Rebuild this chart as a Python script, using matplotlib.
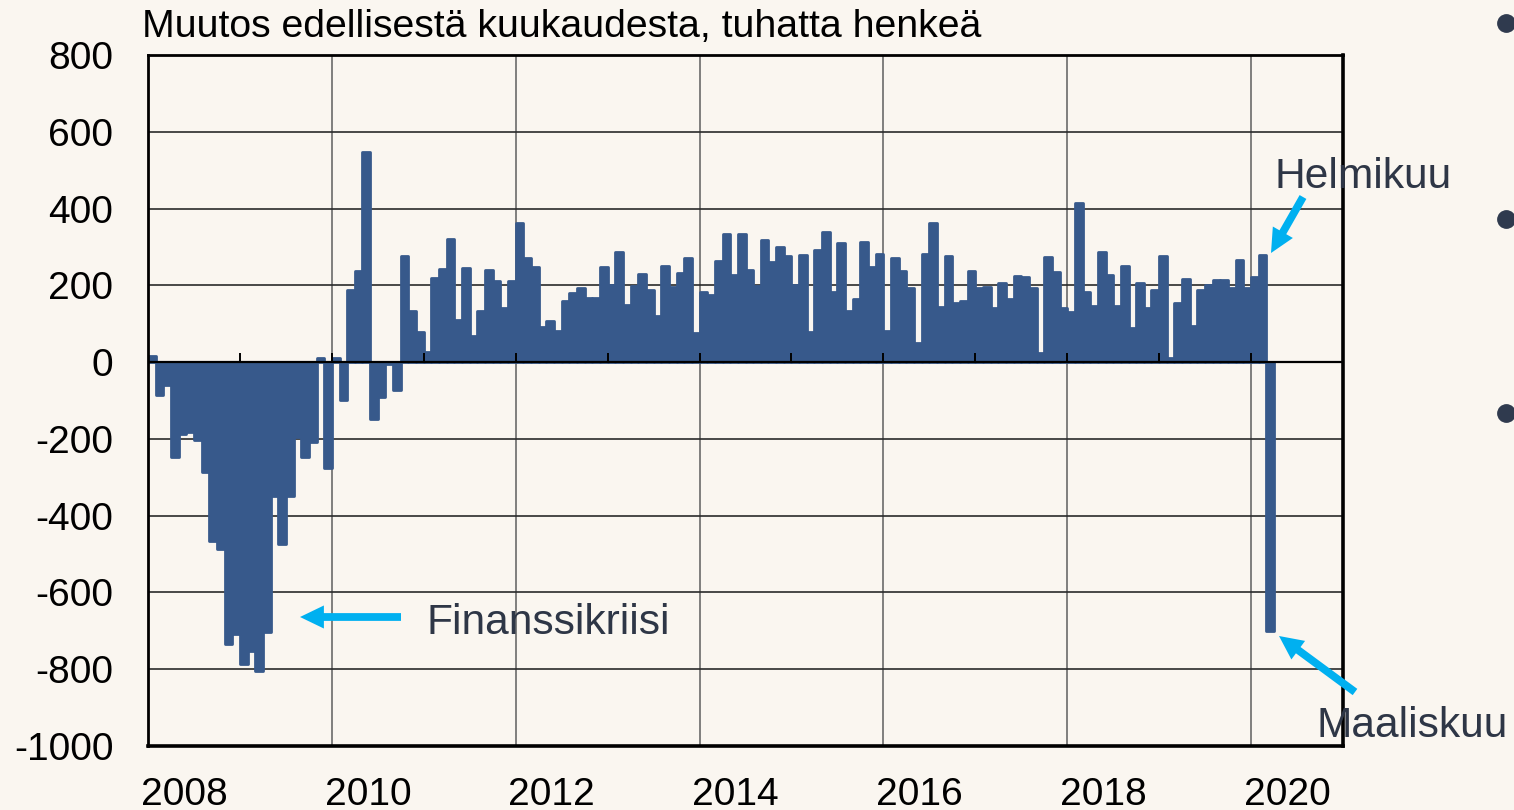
import numpy as np
import matplotlib
matplotlib.use("Agg")
import matplotlib.pyplot as plt
from matplotlib.lines import Line2D

# ---------------- data ----------------
title = "Muutos edellisestä kuukaudesta, tuhatta henkeä"
year_labels = ["2008", "2010", "2012", "2014", "2016", "2018", "2020"]
y_ticks = [800, 600, 400, 200, 0, -200, -400, -600, -800, -1000]

change_2008 = [17, -86, -60, -246, -187, -181, -203, -285, -467, -487, -733, -707]
change_2009 = [-787, -753, -805, -703, -350, -473, -348, -194, -246, -207, 12, -276]
change_2010 = [12, -99, 189, 238, 548, -147, -92, -6, -73, 276, 133, 79]
change_2011 = [27, 220, 242, 320, 109, 244, 69, 134, 241, 212, 140, 210]
change_2012 = [363, 270, 248, 92, 108, 82, 160, 179, 193, 168, 166, 247]
change_2013 = [200, 286, 148, 199, 229, 189, 121, 250, 196, 233, 272, 77]
change_2014 = [183, 174, 263, 335, 226, 335, 240, 198, 318, 261, 299, 276]
change_2015 = [200, 279, 79, 293, 339, 183, 311, 134, 164, 313, 247, 281]
change_2016 = [82, 272, 238, 194, 51, 281, 363, 144, 276, 153, 160, 238]
change_2017 = [194, 196, 140, 205, 164, 224, 222, 192, 25, 274, 234, 140]
change_2018 = [130, 414, 183, 146, 286, 226, 146, 250, 90, 207, 142, 189]
change_2019 = [276, 10, 154, 216, 94, 189, 201, 214, 214, 194, 267, 194]
change_2020 = [222, 279, -701]

change = (change_2008 + change_2009 + change_2010 + change_2011 + change_2012
          + change_2013 + change_2014 + change_2015 + change_2016 + change_2017
          + change_2018 + change_2019 + change_2020)

annot_feb = "Helmikuu"
annot_mar = "Maaliskuu"
annot_crisis = "Finanssikriisi"

# ---------------- style ----------------
BG = "#FAF6F0"
BAR = "#37598B"
ARROW = "#00B0F0"
NOTE = "#2E3646"

plt.rcParams["font.family"] = ["Liberation Sans", "DejaVu Sans"]

W, H = 1514, 810
fig = plt.figure(figsize=(W / 100, H / 100), dpi=100, facecolor=BG)
ax = fig.add_axes([148 / W, 1 - 746 / H, (1343 - 148) / W, (746 - 55) / H])
ax.set_facecolor(BG)

x = np.arange(len(change)) + 0.5
ax.bar(x, change, width=1.0, color=BAR, edgecolor=BAR, linewidth=2.0,
       joinstyle="round", zorder=2)

ax.set_xlim(0, 156)
ax.set_ylim(-1000, 800)

# gridlines
major_x = np.arange(0, 157, 24)
ax.set_xticks(major_x)
ax.set_xticklabels([""] * len(major_x))
ax.set_xticks(major_x[:len(year_labels)] + 4.7, minor=True)
ax.set_xticklabels(year_labels, minor=True)
ax.set_yticks(y_ticks)
ax.set_yticklabels([str(v) for v in y_ticks])
ax.grid(axis="x", which="major", color="#6a6a6a", lw=1.2, zorder=1)
ax.grid(axis="y", which="major", color="#2a2a2a", lw=1.2, zorder=1)
ax.tick_params(which="both", length=0, labelsize=28, colors="black")
ax.tick_params(axis="y", pad=25)
ax.tick_params(axis="x", which="minor", pad=22)

# zero line and yearly ticks on it
ax.axhline(0, color="black", lw=1.6, zorder=3)
ax.vlines(np.arange(12, 156, 12), 0, 24, color="black", lw=1.4, zorder=3)

for side, lw in [("left", 2.0), ("bottom", 2.6), ("top", 2.0), ("right", 2.6)]:
    ax.spines[side].set_linewidth(lw)
    ax.spines[side].set_color("black")
    ax.spines[side].set_zorder(4)

# title
fig.text(142 / W, 1 - 37 / H, title, fontsize=28.3, color="black",
         ha="left", va="baseline")

# annotations (figure pixel coordinates)
arrow_style = "simple,head_length=0.86,head_width=0.83,tail_width=0.28"
def arrow(tip, tail):
    ax.annotate("", xy=(tip[0], H - tip[1]), xytext=(tail[0], H - tail[1]),
                xycoords="figure pixels", textcoords="figure pixels",
                arrowprops=dict(arrowstyle=arrow_style, mutation_scale=20,
                                facecolor=ARROW, edgecolor="none",
                                shrinkA=0, shrinkB=0),
                annotation_clip=False, zorder=6)

arrow((1271, 253), (1303, 197))
arrow((1279, 636), (1355, 692))
arrow((300, 617), (401, 617))

fig.text(1274 / W, 1 - 188 / H, annot_feb, fontsize=30.6, color=NOTE,
         ha="left", va="baseline", zorder=7)
fig.text(1316 / W, 1 - 737 / H, annot_mar, fontsize=30.6, color=NOTE,
         ha="left", va="baseline", zorder=7)
fig.text(426 / W, 1 - 634 / H, annot_crisis, fontsize=30.6, color=NOTE,
         ha="left", va="baseline", zorder=7)

# bullet points of the slide on the right edge
for yb in (23, 219, 413):
    fig.add_artist(Line2D([1506 / W], [1 - yb / H], marker="o", markersize=12.5,
                          color="#2F3A4E", transform=fig.transFigure,
                          linestyle="none"))

fig.savefig("out.png", dpi=100, facecolor=BG)
